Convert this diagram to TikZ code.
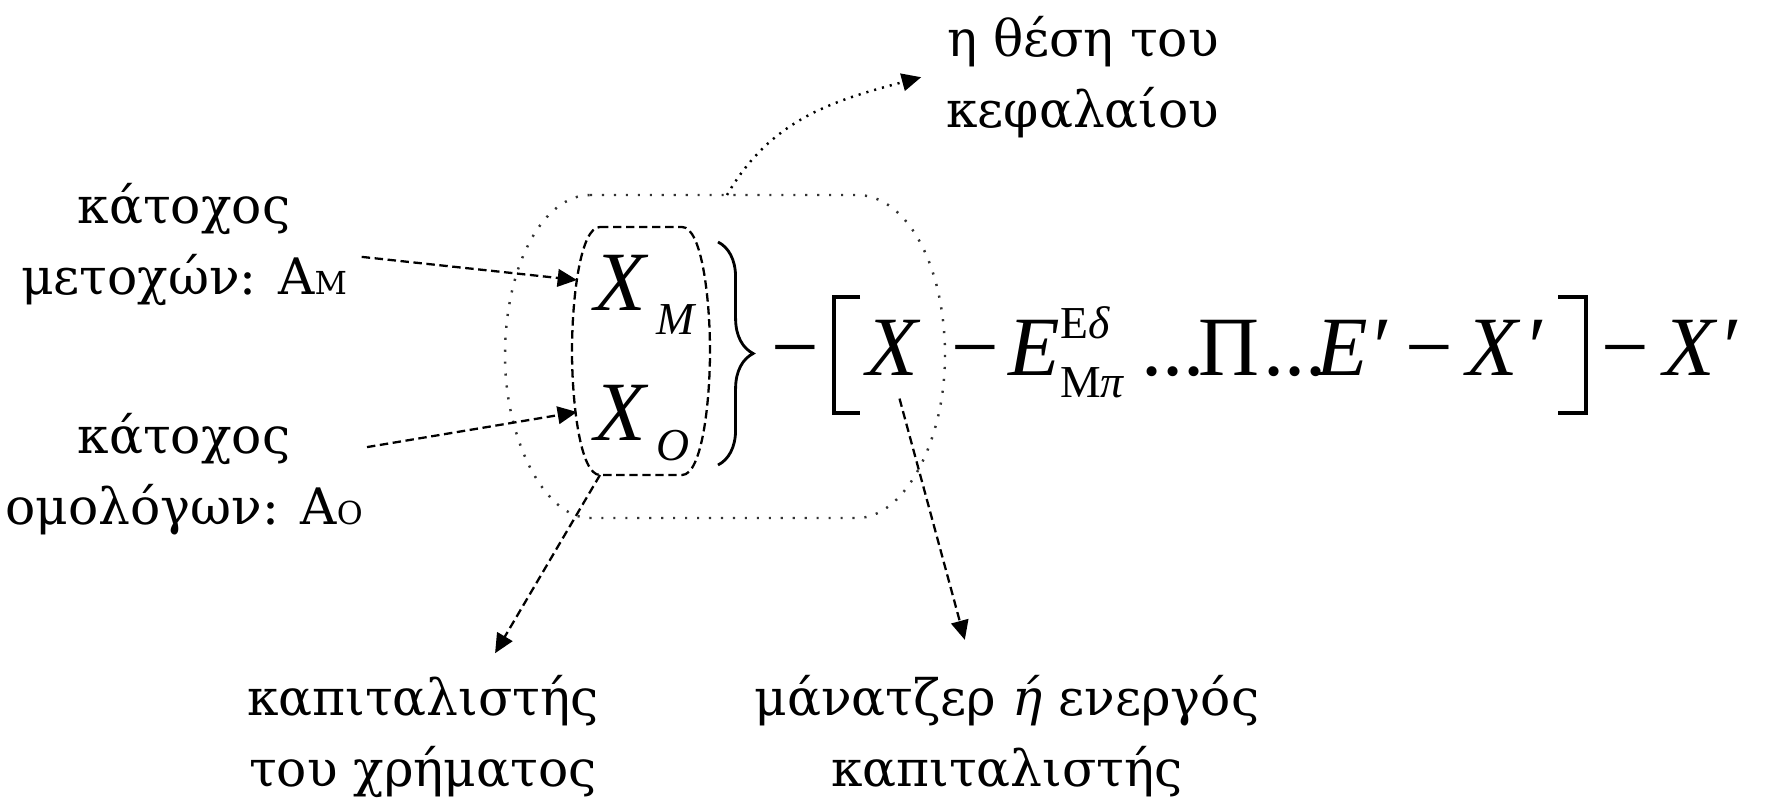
\documentclass[tikz,border=0pt]{standalone}
\usepackage{fontspec}
\setmainfont{Liberation Serif}
\newfontfamily\grk{DejaVu Serif}
\usetikzlibrary{arrows.meta,positioning,calc,decorations.pathreplacing}

\newcommand{\scr}[1]{{\fontsize{13}{13}\selectfont #1}}
\newcommand{\smcap}[1]{{\fontsize{9}{9}\selectfont #1}}
\newcommand{\tdots}{...}
\tikzset{
  lbl/.style={font=\grk\fontsize{14.3}{20}\selectfont, align=center, inner sep=0pt, anchor=north},
  mth/.style={font=\fontsize{24}{28}\selectfont, inner sep=0pt, anchor=base west},
  ptr/.style={-{Triangle[length=5.5pt,width=5pt]}, line width=0.65pt, dash pattern=on 2.4pt off 1.3pt},
  dotptr/.style={-{Triangle[length=5.5pt,width=5pt]}, line width=0.7pt, dash pattern=on 0.6pt off 1.7pt},
}

\begin{document}
\begin{tikzpicture}[x=0.01cm,y=-0.01cm]
  \useasboundingbox (0,0) rectangle (1766,800);
  % the place of capital
  \draw[black!80, line width=0.7pt, dash pattern=on 0.6pt off 2.8pt]
    (590,195) -- (857,195) .. controls (905,195) and (945,262) .. (945,356)
    .. controls (945,440) and (905,518) .. (857,518) -- (590,518)
    .. controls (545,518) and (505,440) .. (505,356)
    .. controls (505,262) and (545,195) .. (590,195) -- cycle;
  \coordinate (capTop) at (727,195);
  % the two owners
  \draw[line width=0.65pt, dash pattern=on 2.4pt off 1.3pt]
    (600,227) -- (682,227) .. controls (702,227) and (710,300) .. (710,351)
    .. controls (710,402) and (702,475) .. (682,475) -- (600,475)
    .. controls (580,475) and (572,402) .. (572,351)
    .. controls (572,300) and (580,227) .. (600,227) -- cycle;
  \coordinate (boxM) at (577,280);
  \coordinate (boxO) at (577,412);
  \coordinate (boxSW) at (600,475);
  \node[mth] (xm) at (594,310) {\itshape X\hspace{3pt}\raisebox{-7pt}{\scr{M}}};
  \node[mth] (xo) at (594,440) {\itshape X\hspace{3pt}\raisebox{-5.7pt}{\scr{O}}};
  \draw[decorate, decoration={brace, amplitude=10pt}, line width=0.8pt] (718,242) -- (718,465);

  % the formula
  \foreach \px/\nm/\t in {771/m1/{−}, 866/eqX/{\itshape X}, 951/m2/{−}, 1141/d1/{\tdots},
      1198/pi/{Π}, 1263/d2/{\tdots}, 1316/ep/{\itshape E′}, 1405/m3/{−},
      1466/xp1/{\itshape X\hspace{1.5pt}′}, 1601/m4/{−}, 1663/xp2/{\itshape X\hspace{1pt}′}}
    \node[mth] (\nm) at (\px,375) {\t};
  \node[mth] (eqE) at (1008,375) {\itshape E\rlap{\raisebox{10.5pt}{\scr{\upshape Ε\itshape δ}}}\raisebox{-6.5pt}{\scr{\upshape Μ\itshape π}}};
  \draw[line width=1pt] (860,297) -- (834,297) -- (834,413) -- (860,413);
  \draw[line width=1pt] (1558,297) -- (1586,297) -- (1586,413) -- (1558,413);

  % labels
  \node[lbl] (katM) at (184,183) {κάτοχος\\μετοχών: Α\smcap{Μ}};
  \node[lbl] (katO) at (184,413) {κάτοχος\\ομολόγων: Α\smcap{Ο}};
  \node[lbl] (thesi) at (1083,16) {η θέση του\\κεφαλαίου};
  \node[lbl] (kap) at (423,675) {καπιταλιστής\\του χρήματος};
  \node[lbl] (mgr) at (1007,675) {μάνατζερ \textit{ή} ενεργός\\καπιταλιστής};

  \draw[ptr] ([xshift=4pt,yshift=-3.5pt]katM.east) -- (boxM);
  \draw[ptr] ([xshift=1pt,yshift=-9.7pt]katO.north east) -- (boxO);
  \draw[ptr] (boxSW) -- ([xshift=20.5pt,yshift=6.2pt]kap.north);
  \draw[ptr] ([xshift=2pt,yshift=-6.5pt]eqX.south) -- ([xshift=-12pt,yshift=10pt]mgr.north);
  \draw[dotptr] (capTop) to[out=60,in=195] ([xshift=-7pt]thesi.west);
\end{tikzpicture}
\end{document}
